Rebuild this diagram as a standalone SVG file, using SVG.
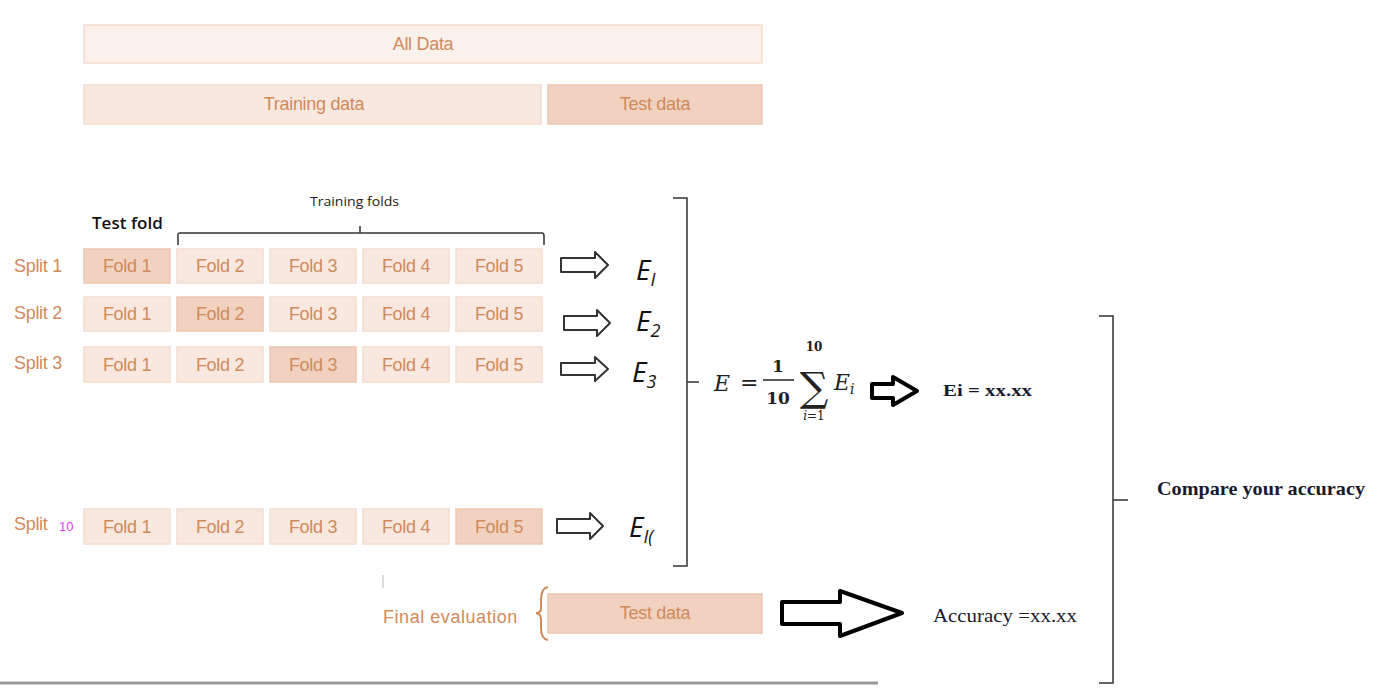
<svg xmlns="http://www.w3.org/2000/svg" width="1390" height="690" viewBox="0 0 1390 690">
<style>
.t{font-family:"Liberation Sans",Arial,sans-serif;fill:#d08a5b;font-size:18px;letter-spacing:-0.3px}
.c{text-anchor:middle}
.box{fill:#f9e8df;stroke:#f5dccf;stroke-width:1.5}
.sel{fill:#f1d2c0;stroke:#ecc6b1;stroke-width:1.5}
.lt{fill:#fbf1ec;stroke:#f5dccf;stroke-width:1.5}
.k{fill:none;stroke:#333;stroke-width:1.5}
.ha{fill:#fff;stroke:#333;stroke-width:2;stroke-linejoin:round}
.ba{fill:#fff;stroke:#000;stroke-width:4;stroke-linejoin:round}
.m{font-family:"DejaVu Serif","Liberation Serif",serif;font-style:italic;fill:#222}
.e{font-family:"Open Sans","DejaVu Sans",sans-serif;font-style:italic;fill:#111;font-size:28px}
.s{font-family:"Liberation Serif","Times New Roman",serif;fill:#1a1a2e}
.b{font-weight:bold}
</style>
<rect width="1390" height="690" fill="#fff"/>
<g id="all-data"><rect class="lt" x="84" y="25" width="678" height="38"/><text class="t c" x="423" y="50">All Data</text></g>
<g id="training-data"><rect class="box" x="84" y="85" width="457" height="39"/><text class="t c" x="314" y="110">Training data</text></g>
<g id="test-data"><rect class="sel" x="548" y="85" width="214" height="39"/><text class="t c" x="655" y="110">Test data</text></g>

<g id="labels">
<text x="92" y="229" font-family="Open Sans,DejaVu Sans,sans-serif" font-size="17" font-weight="600" fill="#111" letter-spacing="-0.8" textLength="70">Test fold</text>
<text x="310" y="206" font-family="Open Sans,DejaVu Sans,sans-serif" font-size="12" fill="#222" textLength="89" lengthAdjust="spacingAndGlyphs">Training folds</text>
</g>

<g id="split1">
<text class="t" x="14" y="272">Split 1</text>
<rect class="sel" x="84" y="249" width="86" height="34"/><text class="t c" x="127" y="272">Fold 1</text>
<rect class="box" x="177" y="249" width="86" height="34"/><text class="t c" x="220" y="272">Fold 2</text>
<rect class="box" x="270" y="249" width="86" height="34"/><text class="t c" x="313" y="272">Fold 3</text>
<rect class="box" x="363" y="249" width="86" height="34"/><text class="t c" x="406" y="272">Fold 4</text>
<rect class="box" x="456" y="249" width="86" height="34"/><text class="t c" x="499" y="272">Fold 5</text>
</g>
<g id="split2">
<text class="t" x="14" y="319">Split 2</text>
<rect class="box" x="84" y="297" width="86" height="34"/><text class="t c" x="127" y="320">Fold 1</text>
<rect class="sel" x="177" y="297" width="86" height="34"/><text class="t c" x="220" y="320">Fold 2</text>
<rect class="box" x="270" y="297" width="86" height="34"/><text class="t c" x="313" y="320">Fold 3</text>
<rect class="box" x="363" y="297" width="86" height="34"/><text class="t c" x="406" y="320">Fold 4</text>
<rect class="box" x="456" y="297" width="86" height="34"/><text class="t c" x="499" y="320">Fold 5</text>
</g>
<g id="split3">
<text class="t" x="14" y="369">Split 3</text>
<rect class="box" x="84" y="347" width="86" height="35"/><text class="t c" x="127" y="371">Fold 1</text>
<rect class="box" x="177" y="347" width="86" height="35"/><text class="t c" x="220" y="371">Fold 2</text>
<rect class="sel" x="270" y="347" width="86" height="35"/><text class="t c" x="313" y="371">Fold 3</text>
<rect class="box" x="363" y="347" width="86" height="35"/><text class="t c" x="406" y="371">Fold 4</text>
<rect class="box" x="456" y="347" width="86" height="35"/><text class="t c" x="499" y="371">Fold 5</text>
</g>
<g id="split10">
<text class="t" x="14" y="530">Split</text><text x="59" y="531" font-family="Liberation Sans,Arial,sans-serif" font-size="13" fill="#e040fb">10</text>
<rect class="box" x="84" y="509" width="86" height="35"/><text class="t c" x="127" y="533">Fold 1</text>
<rect class="box" x="177" y="509" width="86" height="35"/><text class="t c" x="220" y="533">Fold 2</text>
<rect class="box" x="270" y="509" width="86" height="35"/><text class="t c" x="313" y="533">Fold 3</text>
<rect class="box" x="363" y="509" width="86" height="35"/><text class="t c" x="406" y="533">Fold 4</text>
<rect class="sel" x="456" y="509" width="86" height="35"/><text class="t c" x="499" y="533">Fold 5</text>
</g>

<g id="errors">
<text class="e" x="636" y="280">E<tspan font-size="18" dy="6">I</tspan></text>
<text class="e" x="636" y="331">E<tspan font-size="18" dy="6">2</tspan></text>
<text class="e" x="632" y="382">E<tspan font-size="18" dy="6">3</tspan></text>
<text class="e" x="629" y="537">E<tspan font-size="18" dy="6">I(</tspan></text>
</g>

<g id="formula">
<text class="m" x="714" y="391" font-size="22">E</text>
<text x="740" y="390" font-family="DejaVu Serif,serif" font-size="22" fill="#222">=</text>
<text x="778" y="372" font-family="DejaVu Serif,serif" font-size="17" fill="#222" text-anchor="middle" font-weight="bold">1</text>
<line x1="763" y1="380" x2="794" y2="380" stroke="#222" stroke-width="1.5"/>
<text x="778" y="404" font-family="DejaVu Serif,serif" font-size="17" fill="#222" text-anchor="middle" font-weight="bold">10</text>
<text x="814" y="401" font-family="DejaVu Serif,serif" font-size="40" fill="#222" text-anchor="middle">∑</text>
<text x="814" y="351" font-family="DejaVu Serif,serif" font-size="12" fill="#222" text-anchor="middle" font-weight="bold">10</text>
<text x="814" y="420" font-family="DejaVu Serif,serif" font-size="12" fill="#222" text-anchor="middle"><tspan font-style="italic">i</tspan>=1</text>
<text class="m" x="834" y="390" font-size="22">E<tspan font-size="14" dy="4">i</tspan></text>
</g>
<g id="ei"><text class="s b" x="943" y="396" font-size="17" textLength="89" lengthAdjust="spacingAndGlyphs">Ei = xx.xx</text></g>
<g id="compare"><text class="s b" x="1157" y="495" font-size="19" textLength="208" lengthAdjust="spacingAndGlyphs">Compare your accuracy</text></g>
<g id="final-eval">
<text class="t" x="383" y="623" font-size="19" textLength="134">Final evaluation</text>
<rect class="sel" x="548" y="594" width="214" height="39" fill="#f4dccd"/>
<text class="t c" x="655" y="619">Test data</text>
</g>
<g id="accuracy"><text class="s" x="933" y="622" font-size="19" textLength="144" lengthAdjust="spacingAndGlyphs">Accuracy =xx.xx</text></g>

<g id="connectors">
<path class="k" d="M178 245 V234 Q178 233 180 233 H542 Q544 233 544 236 V245 M360 233 V226"/>
<path class="ha" d="M561 258 H595 V252 L608 265 L595 278 V272 H561 Z"/>
<path class="ha" d="M564 316 H597 V310 L610 323 L597 336 V330 H564 Z"/>
<path class="ha" d="M561 363 H595 V357 L608 369 L595 381 V375 H561 Z"/>
<path class="ha" d="M557 519 H590 V513 L603 526 L590 539 V533 H557 Z"/>
<path class="k" d="M673 198 H687 V566 H673 M687 382 H699"/>
<path class="ba" d="M872 384 H893 V377 L917 391 L893 405 V398 H872 Z"/>
<path class="k" d="M1099 316 H1113 V683 H1099 M1113 500 H1128"/>
<path d="M548 587 Q541 588 541 600 V608 Q541 613 536 613 Q541 614 541 619 V628 Q541 639 548 640" fill="none" stroke="#d08a5b" stroke-width="2"/>
<line x1="383" y1="575" x2="383" y2="588" stroke="#bbb" stroke-width="1"/>
<path class="ba" d="M782 602 H840 V591 L902 613 L840 636 V624 H782 Z"/>
<line x1="0" y1="683" x2="878" y2="683" stroke="#999" stroke-width="3"/>
</g>
</svg>
